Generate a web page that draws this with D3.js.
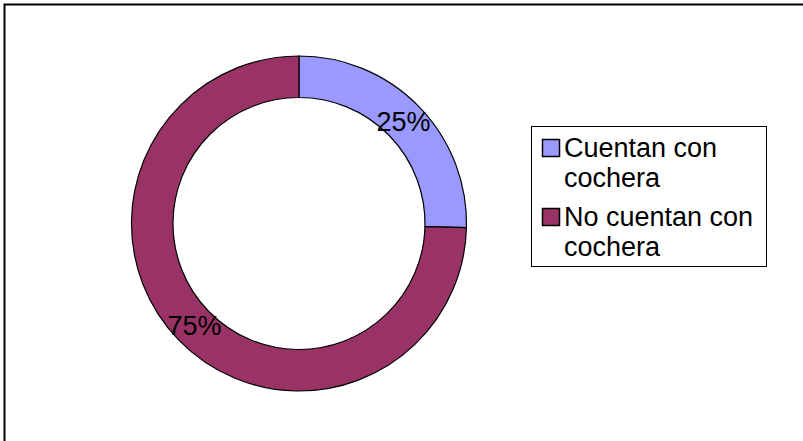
<!DOCTYPE html>
<html>
<head>
<meta charset="utf-8">
<script src="https://cdn.jsdelivr.net/npm/d3@7"></script>
<style>
  body { margin: 0; background: #fff; }
  svg { display: block; font-family: "Liberation Sans", Arial, sans-serif; }
</style>
</head>
<body>
<div id="chart"></div>
<script>
var categories = ["Cuentan con cochera", "No cuentan con cochera"];
var legendLines = [["Cuentan con", "cochera"], ["No cuentan con", "cochera"]];
var values = [25.4, 74.6];
var pctLabels = ["25%", "75%"];
var colors = ["#9999FF", "#993366"];

var width = 803, height = 441;

var svg = d3.select("#chart").append("svg")
    .attr("width", width)
    .attr("height", height);

// outer frame (only top/left visible in the shot)
svg.append("rect")
    .attr("x", 4.5).attr("y", 4.5)
    .attr("width", 810).attr("height", 450)
    .attr("fill", "#fff")
    .attr("stroke", "#000")
    .attr("stroke-width", 2);

var cx = 299, cy = 223.5;
var outerR = 167.5, innerR = 126;

var pie = d3.pie().sort(null).value(d => d);
var arcs = pie(values);

var arc = d3.arc().innerRadius(innerR).outerRadius(outerR);
var labelArc = d3.arc().innerRadius(146).outerRadius(146);

var g = svg.append("g")
    .attr("transform", "translate(" + cx + "," + cy + ")");

g.selectAll("path.slice")
    .data(arcs)
    .enter().append("path")
    .attr("class", "slice")
    .attr("d", arc)
    .attr("fill", (d, i) => colors[i])
    .attr("stroke", "#000")
    .attr("stroke-width", 1.2);

g.selectAll("text.pct")
    .data(arcs)
    .enter().append("text")
    .attr("class", "pct")
    .attr("transform", d => "translate(" + labelArc.centroid(d) + ")")
    .attr("dy", "0.36em")
    .attr("text-anchor", "middle")
    .style("font-size", "27px")
    .style("fill", "#000")
    .text((d, i) => pctLabels[i]);

// legend
var legend = svg.append("g");
legend.append("rect")
    .attr("x", 531.5).attr("y", 126.5)
    .attr("width", 235).attr("height", 140)
    .attr("fill", "#fff")
    .attr("stroke", "#000")
    .attr("stroke-width", 1);

var itemTop = [139, 208];
categories.forEach(function(c, i){
    legend.append("rect")
        .attr("x", 542.5).attr("y", itemTop[i] + 0.5)
        .attr("width", 17).attr("height", 17)
        .attr("fill", colors[i])
        .attr("stroke", "#000")
        .attr("stroke-width", 1.5);
    var t = legend.append("text")
        .attr("x", 564)
        .attr("y", itemTop[i] + 18)
        .style("font-size", "27px")
        .style("fill", "#000");
    legendLines[i].forEach(function(line, j){
        t.append("tspan")
            .attr("x", 564)
            .attr("dy", j === 0 ? 0 : 30)
            .text(line);
    });
});
</script>
</body>
</html>
